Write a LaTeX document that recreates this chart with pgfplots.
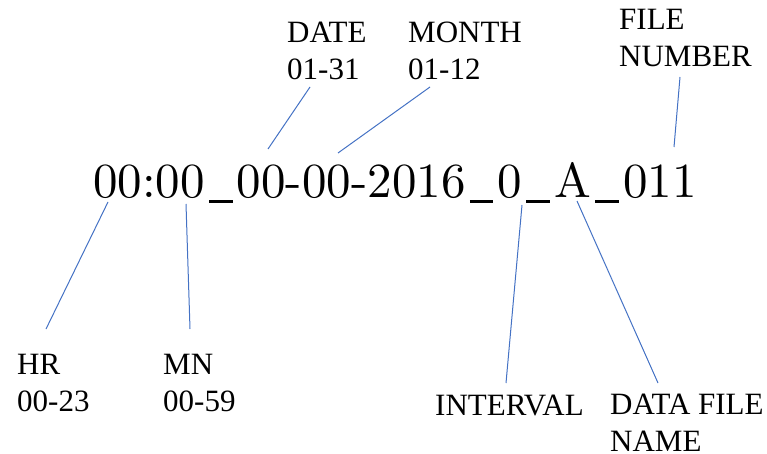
\documentclass[border=0pt]{standalone}
\usepackage{fontspec}
\newfontfamily\lib{Liberation Serif}
\newfontfamily\lmten{lmroman10-regular}[Extension=.otf]
\usepackage{pgfplots}
\pgfplotsset{compat=1.18}
\definecolor{lnblue}{HTML}{4472C4}
\newcommand\us{\makebox[0.655em][c]{\rule[-0.1em]{0.48em}{0.05em}}}
\tikzset{lbl/.style={anchor=base west, align=left, inner sep=0pt, font=\lib\fontsize{31}{37}\selectfont}}
\begin{document}
\begin{tikzpicture}
\begin{axis}[
  width=767pt, height=454pt, scale only axis,
  xmin=0, xmax=767, ymin=0, ymax=454, y dir=reverse,
  hide axis, clip=false,
]
\addplot[draw=none] coordinates {(0,0) (767,454)};
% connector lines
\addplot[lnblue, line width=1pt] coordinates {(310,87) (268,149)};
\addplot[lnblue, line width=1pt] coordinates {(430,87) (338,153)};
\addplot[lnblue, line width=1pt] coordinates {(680,77) (674,147)};
\addplot[lnblue, line width=1pt] coordinates {(108,202) (46,329)};
\addplot[lnblue, line width=1pt] coordinates {(186,204) (190,329)};
\addplot[lnblue, line width=1pt] coordinates {(522,205) (506,383)};
\addplot[lnblue, line width=1pt] coordinates {(577,201) (658,383)};
% main string
\node[anchor=base west, inner sep=0pt, font=\lmten\fontsize{49}{60}\selectfont] at (axis cs:93,198) {00:00\us00-00-2016\us0\us A\us011};
% labels (base anchor = baseline of last line)
\node[lbl] at (axis cs:287,80) {DATE\\01-31};
\node[lbl] at (axis cs:408,80) {MONTH\\01-12};
\node[lbl] at (axis cs:619,67) {FILE\\NUMBER};
\node[lbl] at (axis cs:17,411) {HR\\00-23};
\node[lbl] at (axis cs:163,411) {MN\\00-59};
\node[lbl] at (axis cs:435,415) {INTERVAL};
\node[lbl] at (axis cs:610,451) {DATA FILE\\NAME};
\end{axis}
\end{tikzpicture}
\end{document}
